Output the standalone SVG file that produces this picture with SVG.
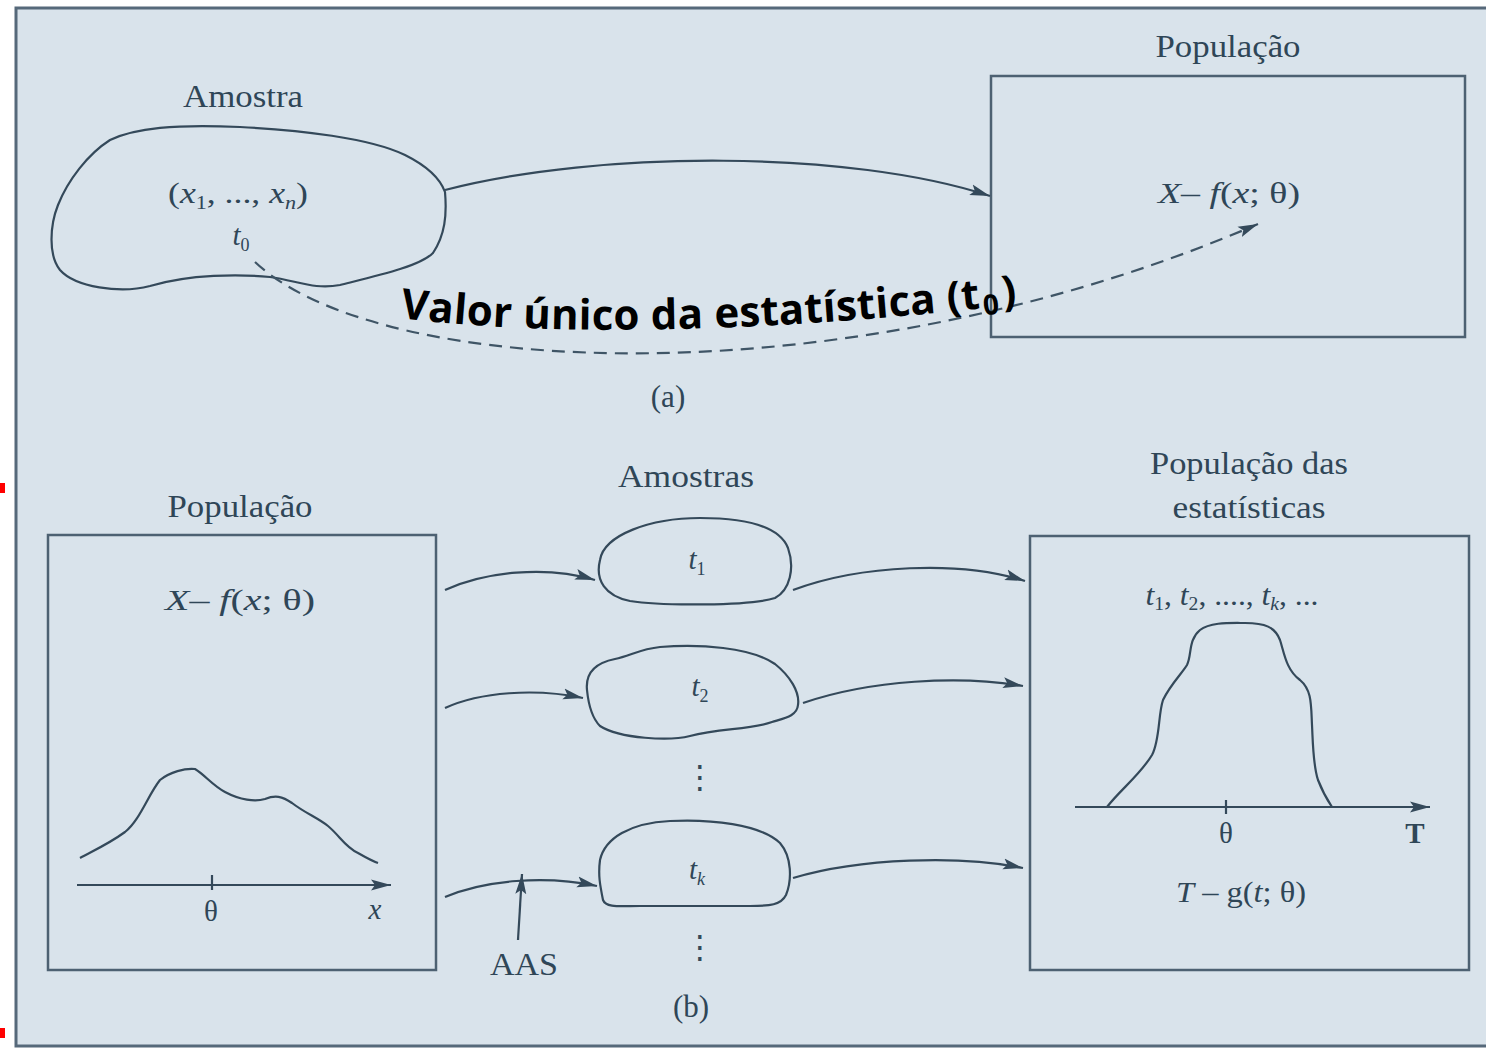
<svg xmlns="http://www.w3.org/2000/svg" width="1486" height="1050" viewBox="0 0 1486 1050">
<defs>
<style>
.lbl{font-family:"Liberation Serif",serif;font-size:31px;fill:#2f4657;text-anchor:middle}
.m{font-family:"Liberation Serif",serif;font-size:29px;fill:#2f4657;text-anchor:middle}
.it{font-style:italic}
.sub{font-size:18px}
.ln{fill:none;stroke:#34495a;stroke-width:2.2}
.box{fill:none;stroke:#4d6172;stroke-width:2.5}
.blob{fill:none;stroke:#34495a;stroke-width:2.2}
.dash{fill:none;stroke:#3f5566;stroke-width:2.2;stroke-dasharray:13 8}
.big{font-family:"Open Sans","Noto Sans",sans-serif;font-weight:bold;font-size:42px;fill:#000;letter-spacing:0.3px}
</style>
<marker id="ah" markerUnits="userSpaceOnUse" markerWidth="22" markerHeight="14" refX="20" refY="7" orient="auto">
<path d="M0,1.5 L20,7 L0,12.5 L4,7 Z" fill="#34495a"/>
</marker>
<path id="arcText" d="M400,318 Q640,348 1040,302"/>
</defs>
<rect x="0" y="0" width="1486" height="1050" fill="#ffffff"/>
<rect x="0" y="483" width="5" height="10" fill="#ff0000"/>
<rect x="0" y="1028" width="5" height="10" fill="#ff0000"/>
<rect x="16" y="8" width="1476" height="1038" fill="#d9e3eb" stroke="#56697a" stroke-width="3"/>

<g id="sample-a">
<text class="lbl" x="243" y="107" textLength="120" lengthAdjust="spacingAndGlyphs">Amostra</text>
<path class="blob" d="M110,140 C135,128 175,124 240,127 C300,130 370,138 405,155 C425,165 440,178 445,192 C447,215 445,235 433,253 C420,266 380,275 340,285 C315,290 298,281 270,277 C240,274 190,274 150,286 C120,294 75,287 60,270 C48,255 50,225 58,205 C68,180 88,154 110,140 Z"/>
<text class="m" x="238" y="203" textLength="140" lengthAdjust="spacingAndGlyphs"><tspan>(</tspan><tspan class="it">x</tspan><tspan class="sub" dy="6">1</tspan><tspan dy="-6">, ..., </tspan><tspan class="it">x</tspan><tspan class="sub it" dy="6">n</tspan><tspan dy="-6">)</tspan></text>
<text class="m" x="241" y="245" font-size="25"><tspan class="it">t</tspan><tspan class="sub" dy="6">0</tspan></text>
</g>

<g id="population-a">
<text class="lbl" x="1228" y="57" textLength="145" lengthAdjust="spacingAndGlyphs">População</text>
<rect class="box" x="991" y="76" width="474" height="261"/>
<text class="m" x="1229" y="203" textLength="142" lengthAdjust="spacingAndGlyphs"><tspan class="it">X</tspan><tspan>– </tspan><tspan class="it">f</tspan><tspan>(</tspan><tspan class="it">x</tspan><tspan>; θ)</tspan></text>
</g>

<g id="label-a">
<text class="lbl" x="668" y="407" font-size="27">(a)</text>
</g>

<g id="population-b">
<text class="lbl" x="240" y="517" textLength="145" lengthAdjust="spacingAndGlyphs">População</text>
<rect class="box" x="48" y="535" width="388" height="435"/>
<text class="m" x="240" y="610" textLength="150" lengthAdjust="spacingAndGlyphs"><tspan class="it">X</tspan><tspan>– </tspan><tspan class="it">f</tspan><tspan>(</tspan><tspan class="it">x</tspan><tspan>; θ)</tspan></text>
<path class="ln" d="M80,858 C95,850 110,843 125,832 C140,820 148,795 160,780 C170,772 185,768 195,769 C205,775 212,785 225,792 C240,800 255,802 265,799 C275,795 282,796 292,803 C305,813 318,818 328,826 C340,836 345,847 358,853 C365,857 372,861 378,863"/>
<path class="ln" d="M77,885 L391,885" marker-end="url(#ah)"/>
<path class="ln" d="M212,875 L212,890"/>
<text class="m" x="211" y="921" font-size="27">θ</text>
<text class="m it" x="375" y="919" font-size="27">x</text>
</g>

<g id="samples-b">
<text class="lbl" x="686" y="487" textLength="136" lengthAdjust="spacingAndGlyphs">Amostras</text>
<g id="sample-t1">
<path class="blob" d="M600,560 C604,535 650,518 700,518 C750,518 780,528 788,548 C795,568 790,590 775,598 C750,606 660,606 630,601 C605,596 595,580 600,560 Z"/>
<text class="m" x="697" y="569" font-size="25"><tspan class="it">t</tspan><tspan class="sub" dy="6">1</tspan></text>
</g>
<g id="sample-t2">
<path class="blob" d="M587,690 C585,670 600,662 615,659 C630,656 640,649 660,647 C700,644 750,647 775,664 C790,676 800,692 798,705 C797,716 785,718 772,722 C750,730 720,728 690,736 C670,741 620,739 600,726 C590,716 588,700 587,690 Z"/>
<text class="m" x="700" y="696" font-size="25"><tspan class="it">t</tspan><tspan class="sub" dy="6">2</tspan></text>
</g>
<text x="700" y="788" font-family="DejaVu Sans,sans-serif" font-size="32" fill="#34495a" text-anchor="middle">⋮</text>
<g id="sample-tk">
<path class="blob" d="M600,860 C605,838 630,823 670,821 C710,819 760,824 780,843 C792,857 792,880 786,895 C781,905 770,906 750,906 L640,906 C620,906 606,908 603,900 C600,885 598,875 600,860 Z"/>
<text class="m" x="697" y="879" font-size="25"><tspan class="it">t</tspan><tspan class="sub it" dy="6">k</tspan></text>
</g>
<text x="700" y="958" font-family="DejaVu Sans,sans-serif" font-size="32" fill="#34495a" text-anchor="middle">⋮</text>
<text class="lbl" x="524" y="975" font-size="30" textLength="68" lengthAdjust="spacingAndGlyphs">AAS</text>
<text class="lbl" x="691" y="1017" font-size="27">(b)</text>
</g>

<g id="population-stats">
<text class="lbl" x="1249" y="474" textLength="198" lengthAdjust="spacingAndGlyphs">População das</text>
<text class="lbl" x="1249" y="518" textLength="153" lengthAdjust="spacingAndGlyphs">estatísticas</text>
<rect class="box" x="1030" y="536" width="439" height="434"/>
<text class="m" x="1232" y="605" font-size="22" textLength="173" lengthAdjust="spacingAndGlyphs"><tspan class="it">t</tspan><tspan class="sub" font-size="14" dy="5">1</tspan><tspan dy="-5">, </tspan><tspan class="it">t</tspan><tspan class="sub" font-size="14" dy="5">2</tspan><tspan dy="-5">, ...., </tspan><tspan class="it">t</tspan><tspan class="sub it" font-size="14" dy="5">k</tspan><tspan dy="-5">, ...</tspan></text>
<path class="ln" d="M1107,807 C1120,790 1140,775 1152,755 C1160,740 1158,715 1163,700 C1170,685 1183,672 1187,665 C1192,655 1188,640 1200,630 C1210,622 1230,623 1245,623 C1265,623 1275,627 1280,640 C1284,652 1286,670 1300,680 C1312,690 1311,705 1312,725 C1313,745 1313,765 1318,780 C1323,793 1328,801 1332,807"/>
<path class="ln" d="M1075,807 L1430,807" marker-end="url(#ah)"/>
<path class="ln" d="M1226,800 L1226,814"/>
<text class="m" x="1226" y="843" font-size="27">θ</text>
<text class="m" x="1415" y="843" font-size="29" font-weight="bold">T</text>
<text class="m" x="1241" y="902" textLength="130" lengthAdjust="spacingAndGlyphs"><tspan class="it">T</tspan><tspan> – g(</tspan><tspan class="it">t</tspan><tspan>; θ)</tspan></text>
</g>

<g id="connectors">
<path class="ln" d="M445,190 C600,150 850,150 990,196" marker-end="url(#ah)"/>
<path class="dash" d="M255,262 C380,380 850,400 1258,224" marker-end="url(#ah)"/>
<path class="ln" d="M445,590 C485,572 545,565 595,580" marker-end="url(#ah)"/>
<path class="ln" d="M445,708 C480,692 535,688 583,698" marker-end="url(#ah)"/>
<path class="ln" d="M445,897 C485,880 545,875 597,886" marker-end="url(#ah)"/>
<path class="ln" d="M793,590 C860,565 960,560 1025,581" marker-end="url(#ah)"/>
<path class="ln" d="M803,703 C870,680 960,675 1023,686" marker-end="url(#ah)"/>
<path class="ln" d="M793,878 C860,858 960,855 1023,868" marker-end="url(#ah)"/>
<path class="ln" d="M518,940 L522,874" marker-end="url(#ah)"/>
</g>

<g id="annotation">
<text class="big"><textPath href="#arcText">Valor único da estatística (t<tspan font-size="28" dx="2" dy="7">0</tspan><tspan dx="4" dy="-7">)</tspan></textPath></text>
</g>
</svg>
